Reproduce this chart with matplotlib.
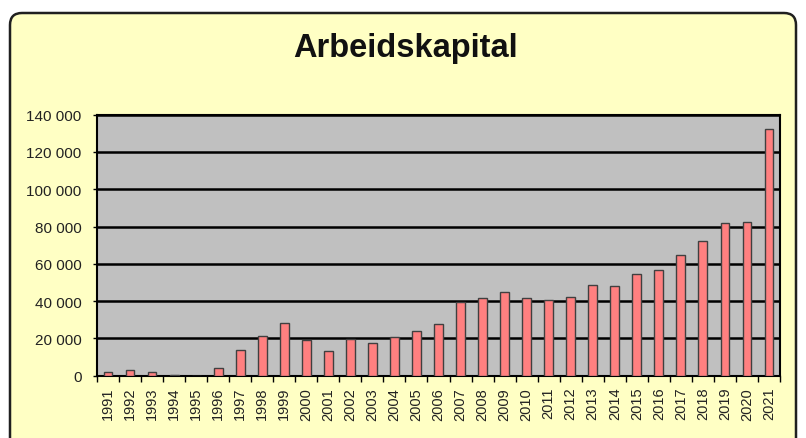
import numpy as np
import matplotlib.pyplot as plt
from matplotlib.patches import FancyBboxPatch
from matplotlib.ticker import FuncFormatter, FixedLocator

plt.rcParams['font.family'] = ['Liberation Sans', 'DejaVu Sans']

years = list(range(1991, 2022))
values = [2000, 3200, 2000, 500, 0, 4000, 14000, 21300, 28300, 19300,
          13000, 19700, 17500, 20900, 23800, 27700, 39300, 41500, 45000, 41500,
          40700, 42000, 48400, 48000, 54500, 56700, 64500, 72000, 81900, 82200,
          132400]
yticks = list(range(0, 140001, 20000))

W, H = 806, 439
fig = plt.figure(figsize=(W / 100, H / 100), dpi=100)
fig.patch.set_facecolor('white')

# background panel in pixel coords
bg = fig.add_axes([0, 0, 1, 1])
bg.set_xlim(0, W)
bg.set_ylim(H, 0)
bg.axis('off')
panel = FancyBboxPatch((10, 14), 786, 440, boxstyle='round,pad=0,rounding_size=12',
                       facecolor='#FFFFC4', edgecolor='#202020', linewidth=1.8)
bg.add_patch(panel)
bg.text(W / 2 + 2, 48, 'Arbeidskapital', ha='center', va='center',
        fontsize=23.5, fontweight='bold', color='#111111')

ax = fig.add_axes([97 / W, 1 - 376.7 / H, (780 - 97) / W, (376.7 - 115.7) / H])
ax.set_facecolor('#C0C0C0')
x = np.arange(len(years))
ax.bar(x, values, width=0.4, color='#FF8080', edgecolor='#404040', linewidth=1, zorder=3)
ax.set_xlim(-0.5, len(years) - 0.5)
ax.set_ylim(0, 140000)

ax.set_yticks(yticks)
ax.yaxis.set_major_formatter(FuncFormatter(lambda v, p: f"{int(v):,}".replace(",", " ")))
ax.yaxis.grid(True, color='black', linewidth=1.8, zorder=1)
ax.set_axisbelow(True)

ax.set_xticks(x)
ax.set_xticklabels([str(y) for y in years], rotation=90)
ax.xaxis.set_minor_locator(FixedLocator(np.arange(-0.5, len(years), 1)))
ax.tick_params(axis='x', which='major', length=0, pad=8, labelsize=10.5, labelcolor='#222222')
ax.tick_params(axis='x', which='minor', length=4, width=1, color='black')
ax.tick_params(axis='y', length=3, width=1, labelsize=11, labelcolor='#222222', pad=8)

for s in ax.spines.values():
    s.set_color('black')
    s.set_linewidth(1.5)

fig.savefig('out.png', dpi=100)
